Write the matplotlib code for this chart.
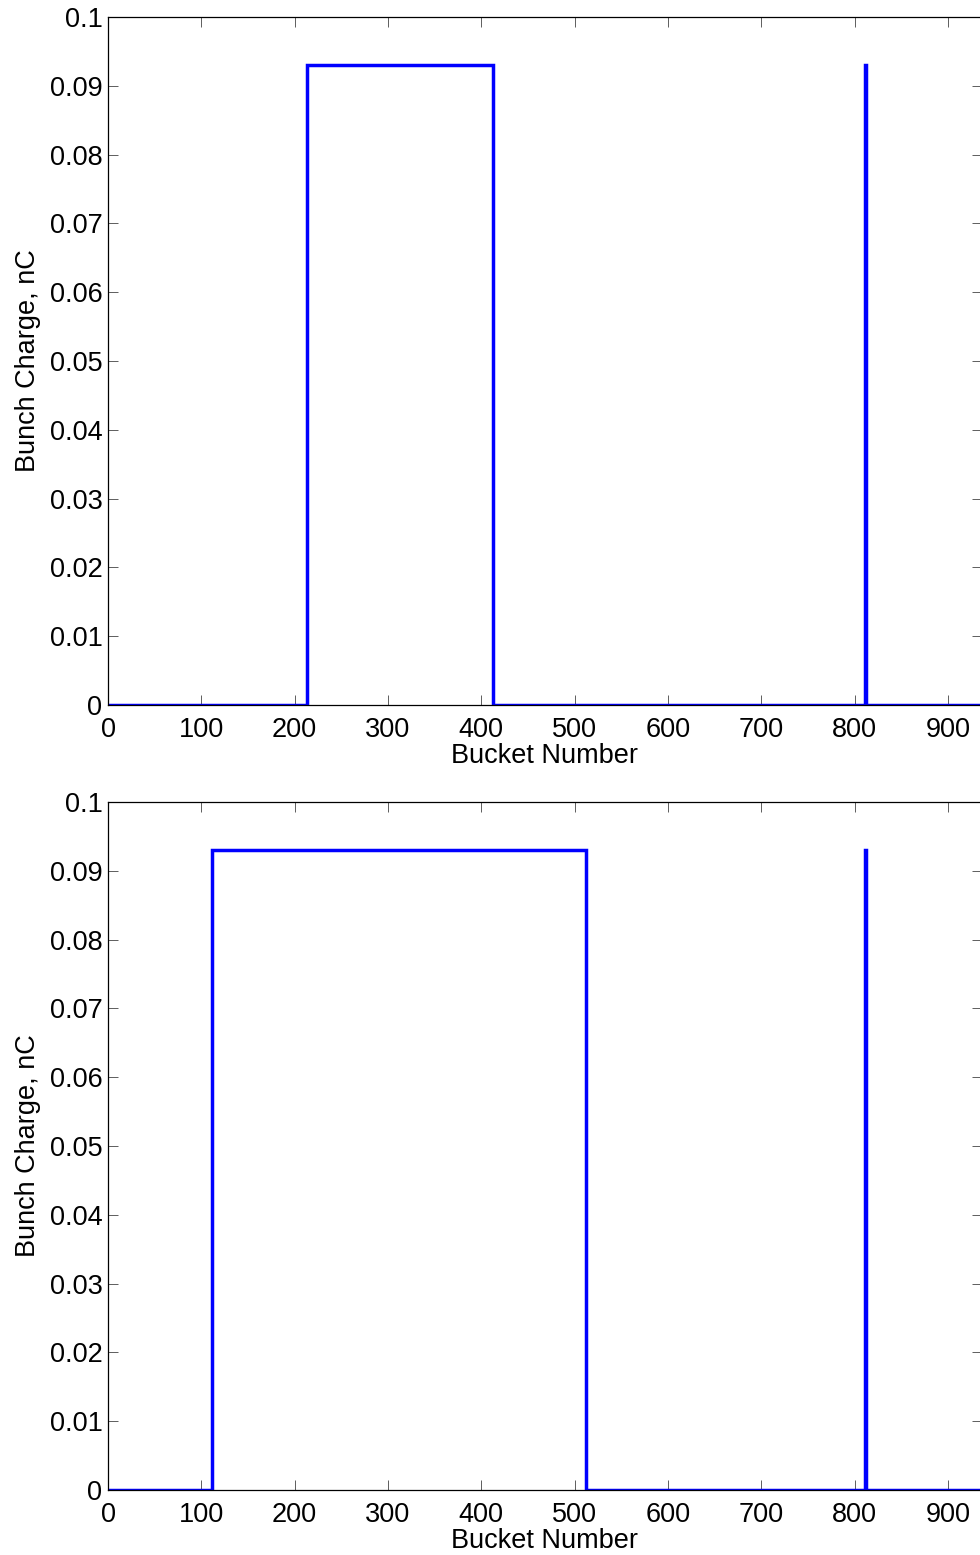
import numpy as np
import matplotlib.pyplot as plt

plt.rcParams['font.family'] = ['Liberation Sans', 'DejaVu Sans']

# outline points (bucket number, bunch charge in nC)
top_bucket = [0, 213, 213, 413, 413, 811, 811, 812, 812, 936]
top_charge = [0, 0, 0.093, 0.093, 0, 0, 0.093, 0.093, 0, 0]
bot_bucket = [0, 111, 111, 512, 512, 811, 811, 812, 812, 936]
bot_charge = [0, 0, 0.093, 0.093, 0, 0, 0.093, 0.093, 0, 0]

xticks = [0, 100, 200, 300, 400, 500, 600, 700, 800, 900]
yticks = [0, 0.01, 0.02, 0.03, 0.04, 0.05, 0.06, 0.07, 0.08, 0.09, 0.1]
ylabels = ['0', '0.01', '0.02', '0.03', '0.04', '0.05', '0.06', '0.07', '0.08', '0.09', '0.1']

fig = plt.figure(figsize=(9.8, 15.55), dpi=100)
W, H = 980, 1555
for top_px, (xs, ys) in [(17, (top_bucket, top_charge)), (802, (bot_bucket, bot_charge))]:
    ax = fig.add_axes([108 / W, (H - top_px - 688) / H, 873.6 / W, 688 / H])
    ax.plot(xs, ys, color='#0000ff', lw=2.5, solid_joinstyle='miter')
    ax.set_xlim(0, 936)
    ax.set_ylim(0, 0.1)
    ax.set_xticks(xticks)
    ax.set_yticks(yticks)
    ax.set_yticklabels(ylabels)
    ax.tick_params(direction='in', length=7, width=0.6, top=True, right=True,
                   labelsize=19.5, pad=4, color='#444444')
    ax.tick_params(axis='x', pad=8.5)
    for s in ax.spines.values():
        s.set_linewidth(0.9)
    ax.set_xlabel('Bucket Number', fontsize=19.5, labelpad=0)
    ax.set_ylabel('Bunch Charge, nC', fontsize=19.5, labelpad=6)

fig.savefig('out.png', dpi=100)
